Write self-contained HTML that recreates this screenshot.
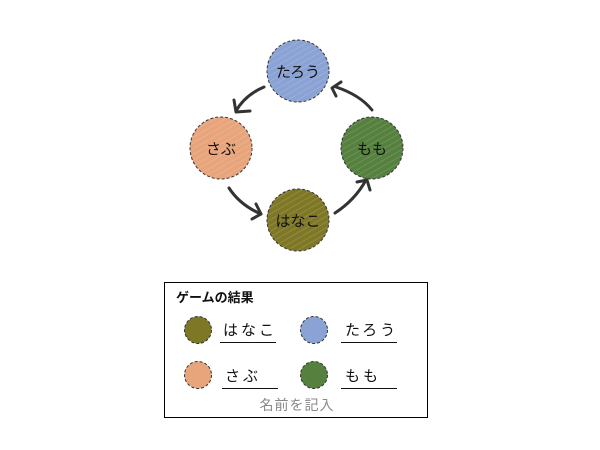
<!DOCTYPE html>
<html><head><meta charset="utf-8"><style>
html,body{margin:0;padding:0;background:#fff;}
svg{display:block;}
text{font-family:"Liberation Sans","Noto Sans CJK JP",sans-serif;}
</style></head><body>
<svg width="600" height="450" viewBox="0 0 600 450" xmlns="http://www.w3.org/2000/svg">
<defs>
<pattern id="h" width="5" height="5" patternUnits="userSpaceOnUse" patternTransform="rotate(60)">
<line x1="0" y1="0" x2="0" y2="5" stroke="#fff" stroke-opacity="0.18" stroke-width="1.5"/>
</pattern>
</defs>
<g stroke="#333" stroke-width="1" stroke-dasharray="3,2">
<circle cx="298" cy="71" r="31" fill="#8aa2d4"/>
<circle cx="221" cy="148" r="31" fill="#e8a47b"/>
<circle cx="372" cy="148" r="31" fill="#55803e"/>
<circle cx="298" cy="220" r="31" fill="#7e7826"/>
</g>
<g fill="url(#h)">
<circle cx="298" cy="71" r="31"/><circle cx="221" cy="148" r="31"/>
<circle cx="372" cy="148" r="31"/><circle cx="298" cy="220" r="31"/>
</g>
<g font-size="15" fill="#111" text-anchor="middle">
<text x="298" y="77">たろう</text>
<text x="221" y="154">さぶ</text>
<text x="372" y="154">もも</text>
<text x="298" y="226">はなこ</text>
</g>
<g fill="none" stroke="#333" stroke-width="3" stroke-linecap="round" stroke-linejoin="round">
<path d="M264 87 Q245 95 236 111"/><path d="M234 100 L236 112 L250 111"/>
<path d="M229 188 Q240 205 261 214"/><path d="M256 204 L261 214 L252 219"/>
<path d="M335 213 Q355 200 366 180"/><path d="M357 182 L367 180 L370 190"/>
<path d="M372 110 Q360 95 336 87"/><path d="M341 82 L332 88 L336 96"/>
</g>
<rect x="164.5" y="282.5" width="263" height="135" fill="none" stroke="#000" stroke-width="1"/>
<text x="176" y="302" font-size="13" font-weight="bold" fill="#111">ゲームの結果</text>
<g stroke="#333" stroke-width="1" stroke-dasharray="3,2">
<circle cx="198" cy="330" r="13.5" fill="#7e7826"/>
<circle cx="314" cy="330" r="13.5" fill="#8aa2d4"/>
<circle cx="198" cy="375" r="13.5" fill="#e8a47b"/>
<circle cx="314" cy="375" r="13.5" fill="#55803e"/>
</g>
<g font-size="15" fill="#111">
<text x="223" y="335" letter-spacing="3">はなこ</text>
<text x="345" y="335" letter-spacing="3">たろう</text>
<text x="225" y="381" letter-spacing="3">さぶ</text>
<text x="345" y="381" letter-spacing="3">もも</text>
</g>
<g stroke="#111" stroke-width="1">
<line x1="220" y1="342.5" x2="276" y2="342.5"/>
<line x1="341" y1="342.5" x2="397" y2="342.5"/>
<line x1="222" y1="388.5" x2="278" y2="388.5"/>
<line x1="341" y1="388.5" x2="397" y2="388.5"/>
</g>
<text x="297" y="410" font-size="14" fill="#888" text-anchor="middle" letter-spacing="1">名前を記入</text>
</svg>
</body></html>
